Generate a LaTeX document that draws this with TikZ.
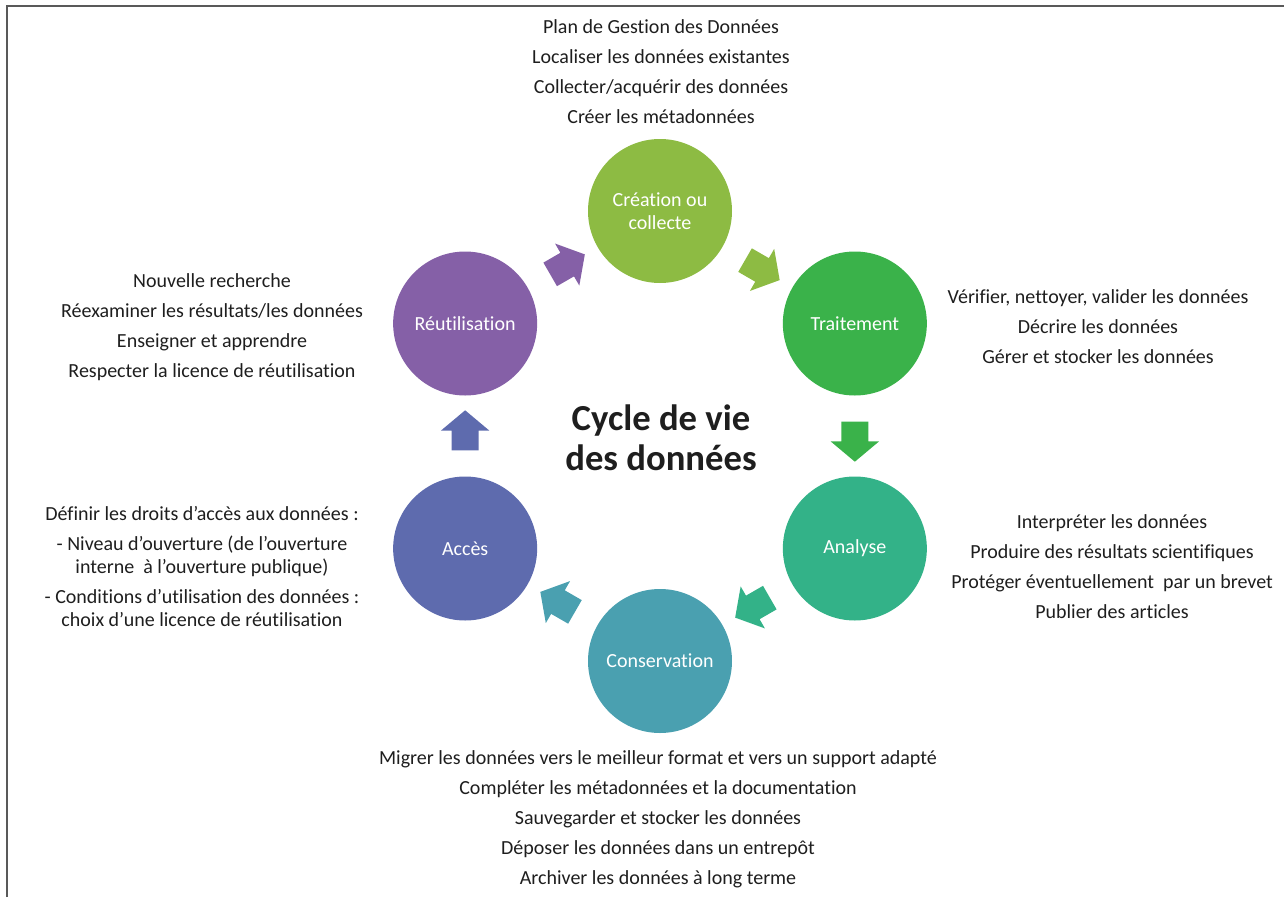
\documentclass[tikz,border=0pt]{standalone}
\usepackage{fontspec}
\setmainfont[Ligatures=NoCommon]{Carlito}
\usetikzlibrary{shapes.arrows}
\definecolor{creacol}{RGB}{141,187,67}
\definecolor{traitcol}{RGB}{58,178,74}
\definecolor{analcol}{RGB}{51,178,136}
\definecolor{conscol}{RGB}{74,160,176}
\definecolor{accescol}{RGB}{94,107,174}
\definecolor{reutcol}{RGB}{133,96,167}
\definecolor{txtcol}{RGB}{30,30,30}

\begin{document}
\begin{tikzpicture}[x=0.75pt, y=0.75pt,
  etape/.style={circle, minimum size=108pt, inner sep=0pt, text=white,
    align=center, font=\fontsize{15pt}{17pt}\selectfont},
  liste/.style={align=center, text=txtcol, font=\fontsize{15pt}{22.5pt}\selectfont},
  fleche/.style={single arrow, minimum height=30pt, inner xsep=0pt, inner ysep=10pt,
    single arrow head extend=8pt, single arrow tip angle=100,
    sloped, allow upside down}]
  \pgfmathsetmacro{\rH}{225}

  \useasboundingbox (-660,-461) rectangle (624,436);
  \draw[line width=1.5pt, black!65] (-653,-461) |- (624,430);

  % the six steps of the cycle
  \node[etape, fill=creacol] (crea) at (90:\rH) {Création ou\\collecte};
  \node[etape, fill=traitcol] (trait) at (30:\rH) {Traitement};
  \node[etape, fill=analcol] (anal) at (-30:\rH) {Analyse};
  \node[etape, fill=conscol] (cons) at (-90:\rH) {Conservation};
  \node[etape, fill=accescol] (acces) at (-150:\rH) {Accès};
  \node[etape, fill=reutcol] (reut) at (150:\rH) {Réutilisation};

  \node[align=center, text=txtcol, font=\fontsize{27.5pt}{30pt}\selectfont\bfseries]
    (titre) at (1,-2) {Cycle de vie\\des données};

  \foreach \a/\b in {reut/crea, crea/trait, trait/anal, anal/cons, cons/acces, acces/reut}{
    \path (\a) -- (\b) node[fleche, midway, fill=\a col] (f-\a) {};
  }

  % what happens at each step
  \node[liste] (t-crea) at (1,364) {Plan de Gestion des Données\\
    Localiser les données existantes\\Collecter/acquérir des données\\
    Créer les métadonnées};
  \node[liste] (t-trait) at (438,109) {Vérifier, nettoyer, valider les données\\
    Décrire les données\\Gérer et stocker les données};
  \node[liste] (t-anal) at (452,-131) {Interpréter les données\\
    Produire des résultats scientifiques\\Protéger éventuellement~ par un brevet\\
    Publier des articles};
  \node[liste] (t-cons) at (-2,-383) {Migrer les données vers le meilleur format et vers un support adapté\\
    Compléter les métadonnées et la documentation\\Sauvegarder et stocker les données\\
    Déposer les données dans un entrepôt\\Archiver les données à long terme};
  \node[liste, font=\fontsize{15pt}{17.25pt}\selectfont] (t-acces) at (-458,-131)
    {Définir les droits d’accès aux données :\\[5.25pt]
    - Niveau d’ouverture (de l’ouverture\\interne~ à l’ouverture publique)\\[5.25pt]
    - Conditions d’utilisation des données :\\choix d’une licence de réutilisation};
  \node[liste] (t-reut) at (-448,109) {Nouvelle recherche\\
    Réexaminer les résultats/les données\\Enseigner et apprendre\\
    Respecter la licence de réutilisation};
\end{tikzpicture}
\end{document}
